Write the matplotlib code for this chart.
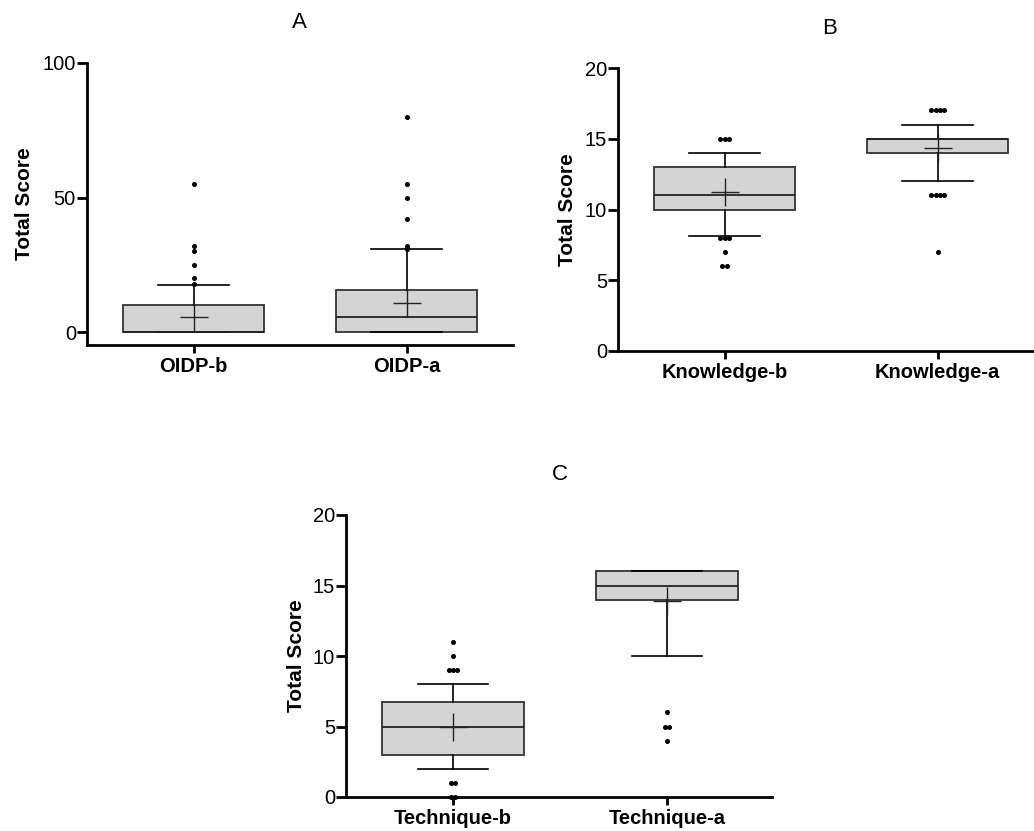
import numpy as np
import matplotlib.pyplot as plt

plt.rcParams['font.family'] = ['Liberation Sans', 'DejaVu Sans']

# Box stats per group: whisker low, q1, median, q3, whisker high, mean
oidp_labels = ["OIDP-b", "OIDP-a"]
oidp_stats = [[0, 0, 0, 10, 17.5, 5.6],
              [0, 0, 5.5, 15.5, 30.8, 10.7]]
oidp_fliers = [[18, 20, 25, 30, 32, 55],
               [31, 32, 42, 50, 55, 80]]

know_labels = ["Knowledge-b", "Knowledge-a"]
know_stats = [[8.1, 10, 11, 13, 14, 11.25],
              [12, 14, 15, 15, 16, 14.35]]
know_fliers = [[15, 15, 15, 8, 8, 8, 7, 6, 6],
               [17, 17, 17, 17, 11, 11, 11, 11, 7]]

tech_labels = ["Technique-b", "Technique-a"]
tech_stats = [[2, 3, 5, 6.75, 8, 5.0],
              [10, 14, 15, 16, 16, 13.9]]
tech_fliers = [[11, 10, 9, 9, 9, 1, 1, 0, 0],
               [6, 5, 5, 4]]

W, H = 1034, 831
fig = plt.figure(figsize=(W / 100, H / 100), dpi=100)


def spread(vals, step=0.019):
    # put repeated values side by side, like the original software does
    vals = np.asarray(vals, dtype=float)
    offs = np.zeros(len(vals))
    for v in np.unique(vals):
        idx = np.where(vals == v)[0]
        n = len(idx)
        offs[idx] = (np.arange(n) - (n - 1) / 2) * step
    return offs


def panel(rect, labels, stats, fliers, ylim, yticks, xlim, title, title_xy, ylab_x):
    ax = fig.add_axes(rect)
    bstats = [dict(whislo=s[0], q1=s[1], med=s[2], q3=s[3], whishi=s[4],
                   mean=s[5], fliers=[]) for s in stats]
    ax.bxp(bstats, positions=[1, 2], widths=0.66, capwidths=0.33,
           showmeans=True, patch_artist=True,
           boxprops=dict(facecolor="#d4d4d4", edgecolor="#333333", linewidth=1.3),
           medianprops=dict(color="#222222", linewidth=1.3),
           whiskerprops=dict(color="black", linewidth=1.2),
           capprops=dict(color="black", linewidth=1.2),
           meanprops=dict(marker="+", markersize=20, markeredgecolor="#222222",
                          markeredgewidth=1.0))
    for pos, fl in zip([1, 2], fliers):
        ax.plot(pos + spread(fl), fl, "o", ms=2.6, color="black",
                clip_on=False, zorder=5)
    ax.set_xlim(*xlim)
    ax.set_ylim(*ylim)
    ax.set_yticks(yticks)
    ax.set_xticks([1, 2])
    ax.set_xticklabels(labels, fontweight="bold", fontsize=14.5)
    for s in ["top", "right"]:
        ax.spines[s].set_visible(False)
    for s in ["left", "bottom"]:
        ax.spines[s].set_linewidth(2)
    ax.tick_params(axis="y", length=7, width=2, labelsize=14.5, pad=1)
    ax.tick_params(axis="x", length=6, width=2, pad=3)
    ax.set_ylabel("Total Score", fontweight="bold", fontsize=15)
    ax.yaxis.set_label_coords(ylab_x, 0.5)
    fig.text(title_xy[0] / W, 1 - title_xy[1] / H, title, fontsize=16,
             ha="center", va="center")
    return ax


panel([87 / W, 1 - 345 / H, 426 / W, 282 / H], oidp_labels, oidp_stats, oidp_fliers,
      (-4.8, 100), [0, 50, 100], (0.5, 2.5), "A", (299, 23), -0.124)
panel([618 / W, 1 - 351 / H, 415 / W, 283 / H], know_labels, know_stats, know_fliers,
      (0, 20), [0, 5, 10, 15, 20], (0.5, 2.448), "B", (830, 29), -0.099)
panel([346 / W, 1 - 797 / H, 426 / W, 282 / H], tech_labels, tech_stats, tech_fliers,
      (0, 20), [0, 5, 10, 15, 20], (0.5, 2.49), "C", (560, 475), -0.094)

fig.savefig("out.png", dpi=100)
